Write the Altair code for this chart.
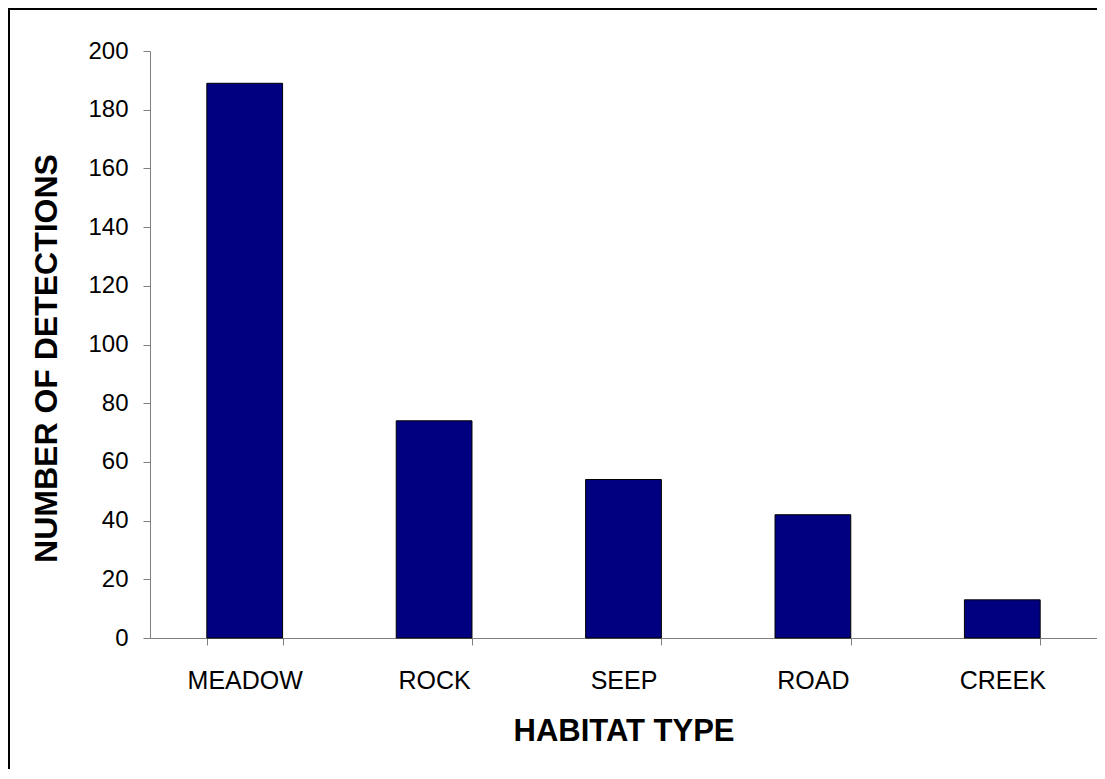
import altair as alt
import pandas as pd

habitats = ["MEADOW", "ROCK", "SEEP", "ROAD", "CREEK"]
detections = [189, 74, 54, 42, 13]
y_ticks = [0, 20, 40, 60, 80, 100, 120, 140, 160, 180, 200]

df = pd.DataFrame({"habitat": habitats, "detections": detections})

FONT = "Liberation Sans"

bars = alt.Chart(df).mark_bar(color="#000080", stroke="#000000", strokeWidth=1).encode(
    x=alt.X(
        "habitat:N",
        sort=habitats,
        title="HABITAT TYPE",
        scale=alt.Scale(paddingInner=0.6, paddingOuter=0.3),
        axis=alt.Axis(
            labelAngle=0,
            tickBand="extent",
            tickSize=7,
            tickColor="#808080",
            domainColor="#808080",
            labelFont=FONT,
            labelFontSize=25,
            labelColor="#000000",
            labelPadding=23,
            titleFont=FONT,
            titleFontSize=31,
            titleFontWeight="bold",
            titleColor="#000000",
            titlePadding=23,
        ),
    ),
    y=alt.Y(
        "detections:Q",
        title="NUMBER OF DETECTIONS",
        scale=alt.Scale(domain=[0, 200], nice=False),
        axis=alt.Axis(
            values=y_ticks,
            grid=False,
            tickSize=7,
            tickColor="#808080",
            domainColor="#808080",
            labelFont=FONT,
            labelFontSize=24,
            labelColor="#000000",
            labelPadding=15,
            titleFont=FONT,
            titleFontSize=32,
            titleFontWeight="bold",
            titleColor="#000000",
            titlePadding=24,
            titleY=307,
        ),
    ),
)

frame = alt.Chart(alt.Data(values=[{"a": 1}])).mark_rect(
    fill="transparent", stroke="#000000", strokeWidth=2
).encode(
    x=alt.value(-141), x2=alt.value(1100), y=alt.value(-42), y2=alt.value(800)
)

chart = alt.layer(frame, bars).properties(
    width=947,
    height=587,
    background="white",
    autosize=alt.AutoSizeParams(type="none"),
    padding={"left": 142, "top": 43, "right": 0, "bottom": 131},
).configure_view(stroke="transparent", strokeWidth=0)

chart.save("out.html", embed_options={"renderer": "svg", "actions": False})
